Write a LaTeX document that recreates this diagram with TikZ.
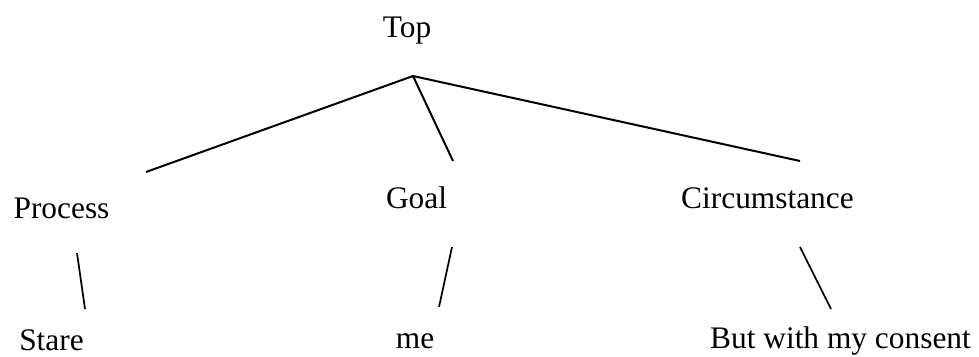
\documentclass[tikz,border=0pt]{standalone}
\usepackage{fontspec}
\setmainfont{Liberation Serif}
\begin{document}
\begin{tikzpicture}[x=1bp,y=-1bp,
  label/.style={inner sep=0pt,anchor=base,font=\fontsize{31.5}{36}\selectfont},
  branch/.style={line width=2bp},
  leaf/.style={line width=1.7bp}]
\useasboundingbox (0,0) rectangle (979,356);
% constituent labels
\node[label] (top) at (407,37) {Top};
\node[label] (process) at (61.5,218) {Process};
\node[label] (goal) at (416.5,208) {Goal};
\node[label] (circ) at (767.5,208) {Circumstance};
\node[label] (stare) at (51.5,350) {Stare};
\node[label] (me) at (415,348) {me};
\node[label] (consent) at (840.5,348) {But with my consent};
% connector end points
\coordinate (apex) at (413,76);
\coordinate (process-up) at (146,172);
\coordinate (goal-up) at (453,161);
\coordinate (circ-up) at (800,161);
\coordinate (process-down) at (77,253);
\coordinate (stare-up) at (85,309);
\coordinate (goal-down) at (452,247);
\coordinate (me-up) at (439,307);
\coordinate (circ-down) at (800,247);
\coordinate (consent-up) at (831,309);
% branches
\draw[branch] (process-up) -- (apex) -- (circ-up);
\draw[branch] (apex) -- (goal-up);
\draw[leaf] (process-down) -- (stare-up);
\draw[leaf] (goal-down) -- (me-up);
\draw[leaf] (circ-down) -- (consent-up);
\end{tikzpicture}
\end{document}
